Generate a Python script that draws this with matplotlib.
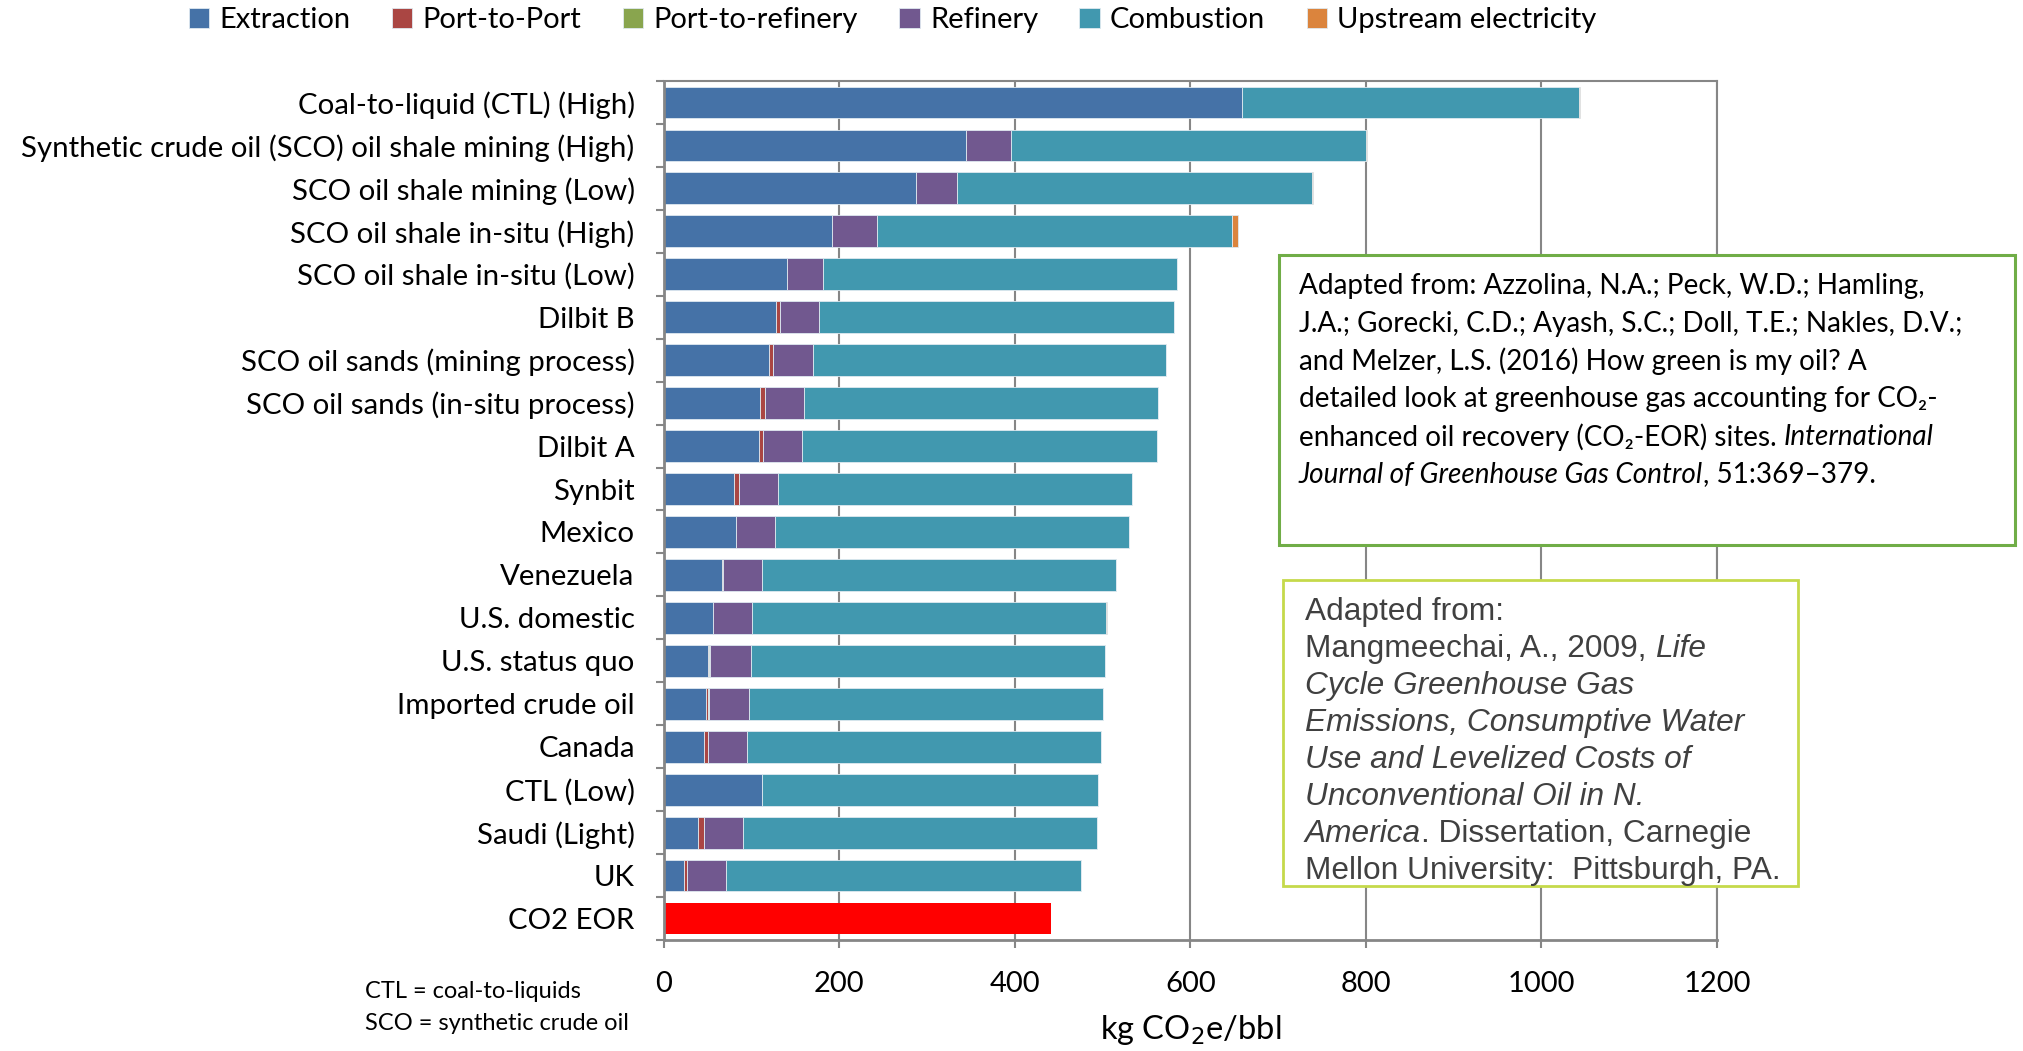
import matplotlib.pyplot as plt
from matplotlib.patches import Rectangle

W, H = 2024, 1051

categories = [
    "Coal-to-liquid (CTL) (High)",
    "Synthetic crude oil (SCO) oil shale mining (High)",
    "SCO oil shale mining (Low)",
    "SCO oil shale in-situ (High)",
    "SCO oil shale in-situ (Low)",
    "Dilbit B",
    "SCO oil sands (mining process)",
    "SCO oil sands (in-situ process)",
    "Dilbit A",
    "Synbit",
    "Mexico",
    "Venezuela",
    "U.S. domestic",
    "U.S. status quo",
    "Imported crude oil",
    "Canada",
    "CTL (Low)",
    "Saudi (Light)",
    "UK",
    "CO2 EOR",
]

# kg CO2e/bbl by life-cycle stage
extraction       = [659, 344, 287, 192, 140, 128, 120, 110, 108, 80, 82, 66, 55.5, 50.7, 47.6, 46.3, 112, 39.3, 23.5, 0]
port_to_port     = [0, 0, 0, 0, 0, 4.6, 4.7, 5.3, 4.8, 5.2, 0, 1.0, 0, 1.2, 3.1, 3.5, 0, 6.1, 2.7, 0]
port_to_refinery = [0, 0, 0, 0, 0, 0, 0, 0, 0, 0, 0, 0, 0, 1.2, 0.5, 0, 0, 0, 0, 0]
refinery         = [0, 52, 47, 51, 41, 44.4, 44.8, 44.1, 44.6, 44.6, 44.6, 44.5, 44.6, 45.7, 45.4, 44.6, 0, 44.6, 45.1, 0]
combustion       = [384, 404, 404, 404, 404, 404, 403, 404, 404, 404, 404, 404, 404, 404, 403.4, 403.5, 382.5, 404, 404, 0]
upstream_elec    = [1.0, 1.5, 2.0, 7.5, 0, 0, 0, 0, 0, 0, 0, 0, 0.8, 0, 0, 0, 0, 0, 0, 0]
co2_eor          = [0] * 19 + [441]

stages = ["Extraction", "Port-to-Port", "Port-to-refinery", "Refinery", "Combustion", "Upstream electricity"]
series = [extraction, port_to_port, port_to_refinery, refinery, combustion, upstream_elec]
colors = ["#4572A7", "#AA4643", "#89A54E", "#71588F", "#4198AF", "#DB843D"]

CAL = ["Lato", "DejaVu Sans"]
ARI = ["Liberation Sans", "DejaVu Sans"]
plt.rcParams["font.family"] = CAL

fig = plt.figure(figsize=(W / 100, H / 100), dpi=100)
ax = fig.add_axes([663.8 / W, 1 - 940 / H, (1717 - 663.8) / W, (940 - 81) / H])

ypos = list(range(len(categories)))
left = [0.0] * len(categories)
for name, vals, c in zip(stages, series, colors):
    ax.barh(ypos, vals, left=left, height=0.74, color=c, label=name,
            edgecolor="#dfe9f0", linewidth=0.6, zorder=2)
    left = [l + v for l, v in zip(left, vals)]
ax.barh(ypos, co2_eor, height=0.74, color="#FF0000", zorder=2)

ax.set_xlim(0, 1200)
ax.set_ylim(len(categories) - 0.5, -0.5)
ax.set_xticks(range(0, 1201, 200))
ax.set_yticks(ypos)
ax.set_yticklabels(categories)
ax.set_yticks([i - 0.5 for i in range(len(categories) + 1)], minor=True)
ax.tick_params(axis="y", which="major", length=0, pad=21, labelsize=21.2)
ax.tick_params(axis="y", which="minor", length=6, width=1.5, color="#868686")
ax.tick_params(axis="x", length=6, width=1.5, color="#868686", pad=16, labelsize=21)
ax.grid(axis="x", color="#868686", linewidth=1.5, zorder=0)
for s in ax.spines.values():
    s.set_color("#868686")
    s.set_linewidth(1.5)
ax.spines["left"].set_linewidth(2)
ax.spines["bottom"].set_linewidth(2)

ax.set_xlabel("kg CO$_2$e/bbl", fontsize=23.5, labelpad=12)

fig.legend(loc="upper left", bbox_to_anchor=(186 / W, 1 - 4 / H), ncol=6, frameon=False,
           fontsize=21, handlelength=0.7, handleheight=0.7, handletextpad=0.35,
           columnspacing=1.42, borderaxespad=0, borderpad=0.1)

fig.text(365 / W, 1 - 991 / H, "CTL = coal-to-liquids", fontsize=17, va="center")
fig.text(365 / W, 1 - 1024 / H, "SCO = synthetic crude oil", fontsize=17, va="center")


def rich_line(x, y, pieces, **kw):
    # pieces: list of (text, style); chained left to right
    t = ax.annotate(pieces[0][0], xy=(x, H - y), xycoords="figure pixels",
                    va="center", ha="left", style=pieces[0][1],
                    annotation_clip=False, zorder=6, **kw)
    for s, st in pieces[1:]:
        t = ax.annotate(s, xy=(1, 0.5), xycoords=t, va="center", ha="left",
                        style=st, annotation_clip=False, zorder=6, **kw)


# citation box 1
ax.add_patch(Rectangle((1279 / W, 1 - 545 / H), (2015 - 1279) / W, (545 - 255) / H,
                       transform=fig.transFigure, facecolor="white", clip_on=False,
                       edgecolor="#70AD47", linewidth=2.2, zorder=5))
box1 = [
    [("Adapted from: Azzolina, N.A.; Peck, W.D.; Hamling,", "normal")],
    [("J.A.; Gorecki, C.D.; Ayash, S.C.; Doll, T.E.; Nakles, D.V.;", "normal")],
    [("and Melzer, L.S. (2016) How green is my oil? A", "normal")],
    [("detailed look at greenhouse gas accounting for CO\u2082-", "normal")],
    [("enhanced oil recovery (CO\u2082-EOR) sites. ", "normal"), ("International", "italic")],
    [("Journal of Greenhouse Gas Control", "italic"), (", 51:369\u2013379.", "normal")],
]
for i, line in enumerate(box1):
    rich_line(1299, 286 + i * 37.7, line, fontsize=20.1, family=CAL, color="black")

# citation box 2
ax.add_patch(Rectangle((1283 / W, 1 - 886 / H), (1798 - 1283) / W, (886 - 580) / H,
                       transform=fig.transFigure, facecolor="white", clip_on=False,
                       edgecolor="#C5D94B", linewidth=2, zorder=5))
box2 = [
    [("Adapted from:", "normal")],
    [("Mangmeechai, A., 2009, ", "normal"), ("Life", "italic")],
    [("Cycle Greenhouse Gas", "italic")],
    [("Emissions, Consumptive Water", "italic")],
    [("Use and Levelized Costs of", "italic")],
    [("Unconventional Oil in N.", "italic")],
    [("America", "italic"), (". Dissertation, Carnegie", "normal")],
    [("Mellon University:  Pittsburgh, PA.", "normal")],
]
for i, line in enumerate(box2):
    rich_line(1305, 612 + i * 37, line, fontsize=22.8, family=ARI, color="#404040")

fig.savefig("out.png", dpi=100)
